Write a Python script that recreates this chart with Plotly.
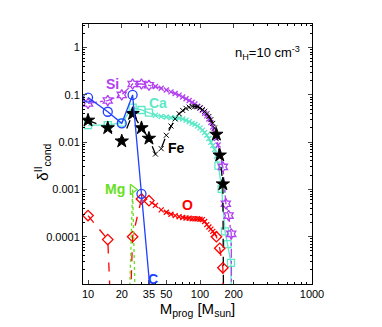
import math
import plotly.graph_objects as go

# masses [M_sun]
m_low = [10, 15, 20, 25, 30, 35]
m_mid = [40, 45, 50, 55, 60, 65, 70, 75, 80, 85, 90, 95, 100,
         105, 110, 115, 120, 125, 130, 135]

# C
c_m = [10, 15, 20, 25, 30, 40]
c_val = [0.088, 0.044, 0.025, 0.1, 8.1e-4, 4e-7]

# Si
si_low = [0.066, 0.076, 0.1, 0.17, 0.17, 0.16]
si_mid = [0.150, 0.138, 0.127, 0.116, 0.107, 0.099, 0.090, 0.083, 0.076, 0.070,
          0.064, 0.058, 0.053, 0.047, 0.041, 0.036, 0.031, 0.026, 0.021, 0.016]
si_hi_m = [140, 145, 160, 170, 180, 190, 200]
si_hi = [0.012, 0.0087, 0.003, 5e-4, 2.8e-4, 1.15e-4, 1e-15]

# Ca
ca_low = [0.023, 0.023, 0.026, 0.054, 0.048, 0.042]
ca_mid = [0.037, 0.035, 0.034, 0.033, 0.033, 0.032, 0.031, 0.029, 0.027, 0.025,
          0.024, 0.022, 0.020, 0.018, 0.016, 0.014, 0.012, 0.010, 0.0085, 0.007]
ca_hi_m = [140, 146, 156, 167, 176, 189, 200]
ca_hi = [0.005, 0.0032, 0.00103, 1.3e-4, 7e-5, 2.8e-5, 1e-15]

# Fe
fe_low = [0.029, 0.02, 0.0105, 0.04, 0.02, 0.012]
fe_mid = [0.0056, 0.0073, 0.014, 0.022, 0.031, 0.040, 0.047, 0.052, 0.055, 0.057,
          0.057, 0.056, 0.053, 0.049, 0.045, 0.040, 0.035, 0.030, 0.025, 0.020]
fe_hi_m = [140, 150, 160, 170]
fe_hi = [0.0146, 0.0053, 0.0013, 1e-15]

# O
o_low = [2.8e-4, 8.7e-5, 1e-11, 1e-4, 6.3e-4, 5.8e-4]
o_mid = [4.6e-4, 3.7e-4, 3.3e-4, 3.0e-4, 2.8e-4, 2.65e-4, 2.55e-4, 2.5e-4, 2.45e-4, 2.4e-4,
         2.4e-4, 2.4e-4, 2.35e-4, 2.3e-4, 2.1e-4, 1.8e-4, 1.6e-4, 1.45e-4, 1.3e-4, 1.15e-4]
o_hi_m = [140, 150, 160, 170]
o_hi = [1e-4, 5.7e-5, 2.2e-5, 1e-15]

# Mg
mg_m = [20, 25, 30]
mg_val = [1e-11, 1e-3, 1e-11]

FONT = "Liberation Sans, Arial, sans-serif"

fig = go.Figure()


def add_elem(xs, ys, syms, sizes, color, dash, fill=None, lw=1.3):
    fig.add_trace(go.Scatter(
        x=xs, y=ys, mode="lines+markers",
        line=dict(color=color, width=1.3, dash=dash),
        marker=dict(symbol=syms, size=sizes, color=fill or color, opacity=1,
                    line=dict(color=color, width=lw)),
        showlegend=False,
    ))


def series(low, mid, hi_m, hi, big, bsize, n_x_hi=0):
    xs = m_low + m_mid + hi_m
    ys = low + mid + hi
    syms = [big] * len(low) + ["x-thin-open"] * (len(mid) + n_x_hi) + [big] * (len(hi) - n_x_hi)
    sizes = [bsize] * len(low) + [5] * (len(mid) + n_x_hi) + [bsize] * (len(hi) - n_x_hi)
    return xs, ys, syms, sizes


# Ca
xs, ys, syms, sizes = series(ca_low, ca_mid, ca_hi_m, ca_hi, "square-open", 7, 1)
add_elem(xs, ys, syms, sizes, "#5EE8C8", "solid")

# Si
xs, ys, syms, sizes = series(si_low, si_mid, si_hi_m, si_hi, "hexagram-open", 8, 2)
add_elem(xs, ys, syms, sizes, "#B040F0", "dashdot")

# Fe
xs, ys, syms, sizes = series(fe_low, fe_mid, fe_hi_m, fe_hi, "star", 10)
add_elem(xs, ys, syms, sizes, "black", "dash", fill="black", lw=1)

# O
xs, ys, syms, sizes = series(o_low, o_mid, o_hi_m, o_hi, "diamond-open", 8)
add_elem(xs, ys, syms, sizes, "#FF0000", "dash")

# Mg
add_elem(mg_m, mg_val, "triangle-right-open", 9, "#66E020", "dot")

# C
add_elem(c_m, c_val, "circle-open", 9, "#2040FF", "solid")

# labels (log axes -> positions in log10 units)
labels = [
    ("Si", 16.4, 0.17, "#B040F0"),
    ("Ca", 42, 0.068, "#5EE8C8"),
    ("Fe", 62, 0.0075, "black"),
    ("Mg", 17.4, 0.001, "#66E020"),
    ("O", 78, 4.6e-4, "#FF0000"),
]
for txt, lx, ly, col in labels:
    fig.add_annotation(x=math.log10(lx), y=math.log10(ly), xref="x", yref="y",
                       text="<b>" + txt + "</b>", showarrow=False,
                       font=dict(family=FONT, size=14, color=col))
fig.add_annotation(x=math.log10(38), y=-0.018, xref="x", yref="paper", text="<b>C</b>",
                   showarrow=False, font=dict(family=FONT, size=14, color="#2040FF"))

fig.add_annotation(x=0.955, y=0.93, xref="paper", yref="paper", xanchor="right",
                   text="n<sub>H</sub>=10 cm<sup>-3</sup>", showarrow=False,
                   font=dict(family=FONT, size=13, color="black"))

fig.add_annotation(x=-0.23, y=0.47, xref="paper", yref="paper", textangle=-90,
                   text="δ<sup>II</sup><sub>cond</sub>", showarrow=False,
                   font=dict(family=FONT, size=15, color="black"))

y_minor = [k * 10.0 ** e for e in range(-5, 1) for k in range(2, 10)]
x_minor = [30, 40, 60, 70, 80, 90, 300, 400, 500, 600, 700, 800, 900]

fig.update_xaxes(
    type="log", range=[0.955, 3],
    tickvals=[10, 20, 35, 50, 100, 200, 1000],
    ticktext=["10", "20", "35", "50", "100", "200", "1000"],
    ticks="inside", ticklen=4, showline=True, linecolor="black", linewidth=1,
    mirror="ticks", showgrid=False, zeroline=False,
    tickfont=dict(family=FONT, size=11, color="black"),
    minor=dict(tickvals=x_minor, ticks="inside", ticklen=2, tickcolor="black"),
    title=dict(text="M<sub>prog</sub> [M<sub>sun</sub>]", standoff=4,
               font=dict(family=FONT, size=15, color="black")),
)
fig.update_yaxes(
    type="log", range=[-5, 0.5],
    tickvals=[1e-4, 1e-3, 1e-2, 1e-1, 1],
    ticktext=["0.0001", "0.001", "0.01", "0.1", "1"],
    ticks="inside", ticklen=4, showline=True, linecolor="black", linewidth=1,
    mirror="ticks", showgrid=False, zeroline=False,
    tickfont=dict(family=FONT, size=11, color="black"),
    minor=dict(tickvals=y_minor, ticks="inside", ticklen=2, tickcolor="black"),
)

# the page body adds an 8px offset, so the figure is 8px smaller
fig.update_layout(
    width=374, height=319,
    margin=dict(l=75, r=70, t=16, b=36),
    plot_bgcolor="white", paper_bgcolor="white",
)

fig.write_html("out.html")
